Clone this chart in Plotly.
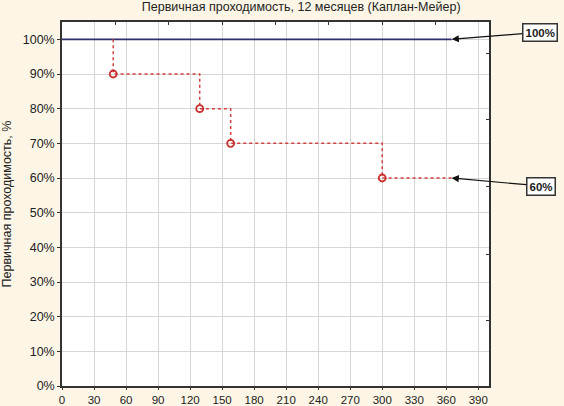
import plotly.graph_objects as go

# Kaplan-Meier primary patency, days vs share
days_total = [0, 365]
patency_total = [1.0, 1.0]

step_days = [48, 48, 129, 129, 158, 158, 300, 300, 365]
step_patency = [1.0, 0.9, 0.9, 0.8, 0.8, 0.7, 0.7, 0.6, 0.6]

event_days = [48, 129, 158, 300]
event_patency = [0.9, 0.8, 0.7, 0.6]

x_ticks = list(range(0, 391, 30))
y_ticks = [i / 10 for i in range(0, 11)]
top_ticks = list(range(50, 351, 50))
right_ticks = [0.19, 0.38, 0.575, 0.77, 0.96]

label_points = [(365, 1.0, "100%", 88, -7), (365, 0.6, "60%", 89, 8)]

FAMILY = "Liberation Sans, Arial, sans-serif"
font = dict(family=FAMILY, size=12.5, color="#222222")
xtick_font = dict(family=FAMILY, size=11.5, color="#222222")
box_font = dict(family=FAMILY, size=11.5, color="#222222")

fig = go.Figure()
fig.add_trace(go.Scatter(
    x=days_total, y=patency_total, mode="lines",
    line=dict(color="#2e2f6e", width=1.6), showlegend=False,
))
fig.add_trace(go.Scatter(
    x=step_days, y=step_patency, mode="lines",
    line=dict(color="#d0403f", width=1.5, dash="dot"), showlegend=False,
))
fig.add_trace(go.Scatter(
    x=event_days, y=event_patency, mode="markers",
    marker=dict(symbol="circle-open", color="#c8302f", size=7, line=dict(width=1.8)),
    showlegend=False,
))
# invisible trace just to carry the top/right tick axes
fig.add_trace(go.Scatter(x=[None], y=[None], xaxis="x2", yaxis="y2",
                         showlegend=False, hoverinfo="skip"))

for x, y, txt, ax, ay in label_points:
    fig.add_annotation(
        x=x, y=y, text="<b>" + txt + "</b>", showarrow=True,
        ax=ax, ay=ay, arrowhead=2, arrowsize=1.2, arrowwidth=1.2,
        arrowcolor="#111111", bordercolor="#333333", borderwidth=1.5,
        borderpad=2, bgcolor="#ffffff", font=box_font,
    )

axis_common = dict(
    showline=True, linecolor="#333333", linewidth=1.5, mirror=True,
    ticks="outside", tickcolor="#333333",
    showgrid=True, gridcolor="#d6d6d6", gridwidth=1,
    zeroline=False, automargin=False,
)
side_common = dict(
    showline=False, showgrid=False, zeroline=False, showticklabels=False,
    ticks="inside", ticklen=3, tickcolor="#333333", automargin=False,
)

fig.update_layout(
    width=564, height=406,
    margin=dict(l=62, r=75, t=22, b=20),
    paper_bgcolor="#fdf6e6", plot_bgcolor="#ffffff",
    font=font,
    title=dict(text="Первичная проходимость, 12 месяцев (Каплан-Мейер)",
               x=0.534, xanchor="center", y=0.983, yanchor="middle",
               font=dict(family=FAMILY, size=12.5, color="#222222")),
    xaxis=dict(range=[0, 400], tickvals=x_ticks, ticklen=2, tickfont=xtick_font,
               **axis_common),
    yaxis=dict(range=[0, 1.05], tickvals=y_ticks, tickformat=".0%",
               ticklen=3, tickfont=font,
               title=dict(text="Первичная проходимость, %", standoff=9,
                          font=dict(family=FAMILY, size=12.5, color="#222222")),
               **axis_common),
    xaxis2=dict(range=[0, 400], tickvals=top_ticks, overlaying="x", side="top",
                **side_common),
    yaxis2=dict(range=[0, 1.05], tickvals=right_ticks, overlaying="y", side="right",
                **side_common),
)

# drop the default body margin so the figure sits at the window corner
fig.write_html("out.html", config={"displayModeBar": False},
               post_script="document.body.style.margin='0';")
